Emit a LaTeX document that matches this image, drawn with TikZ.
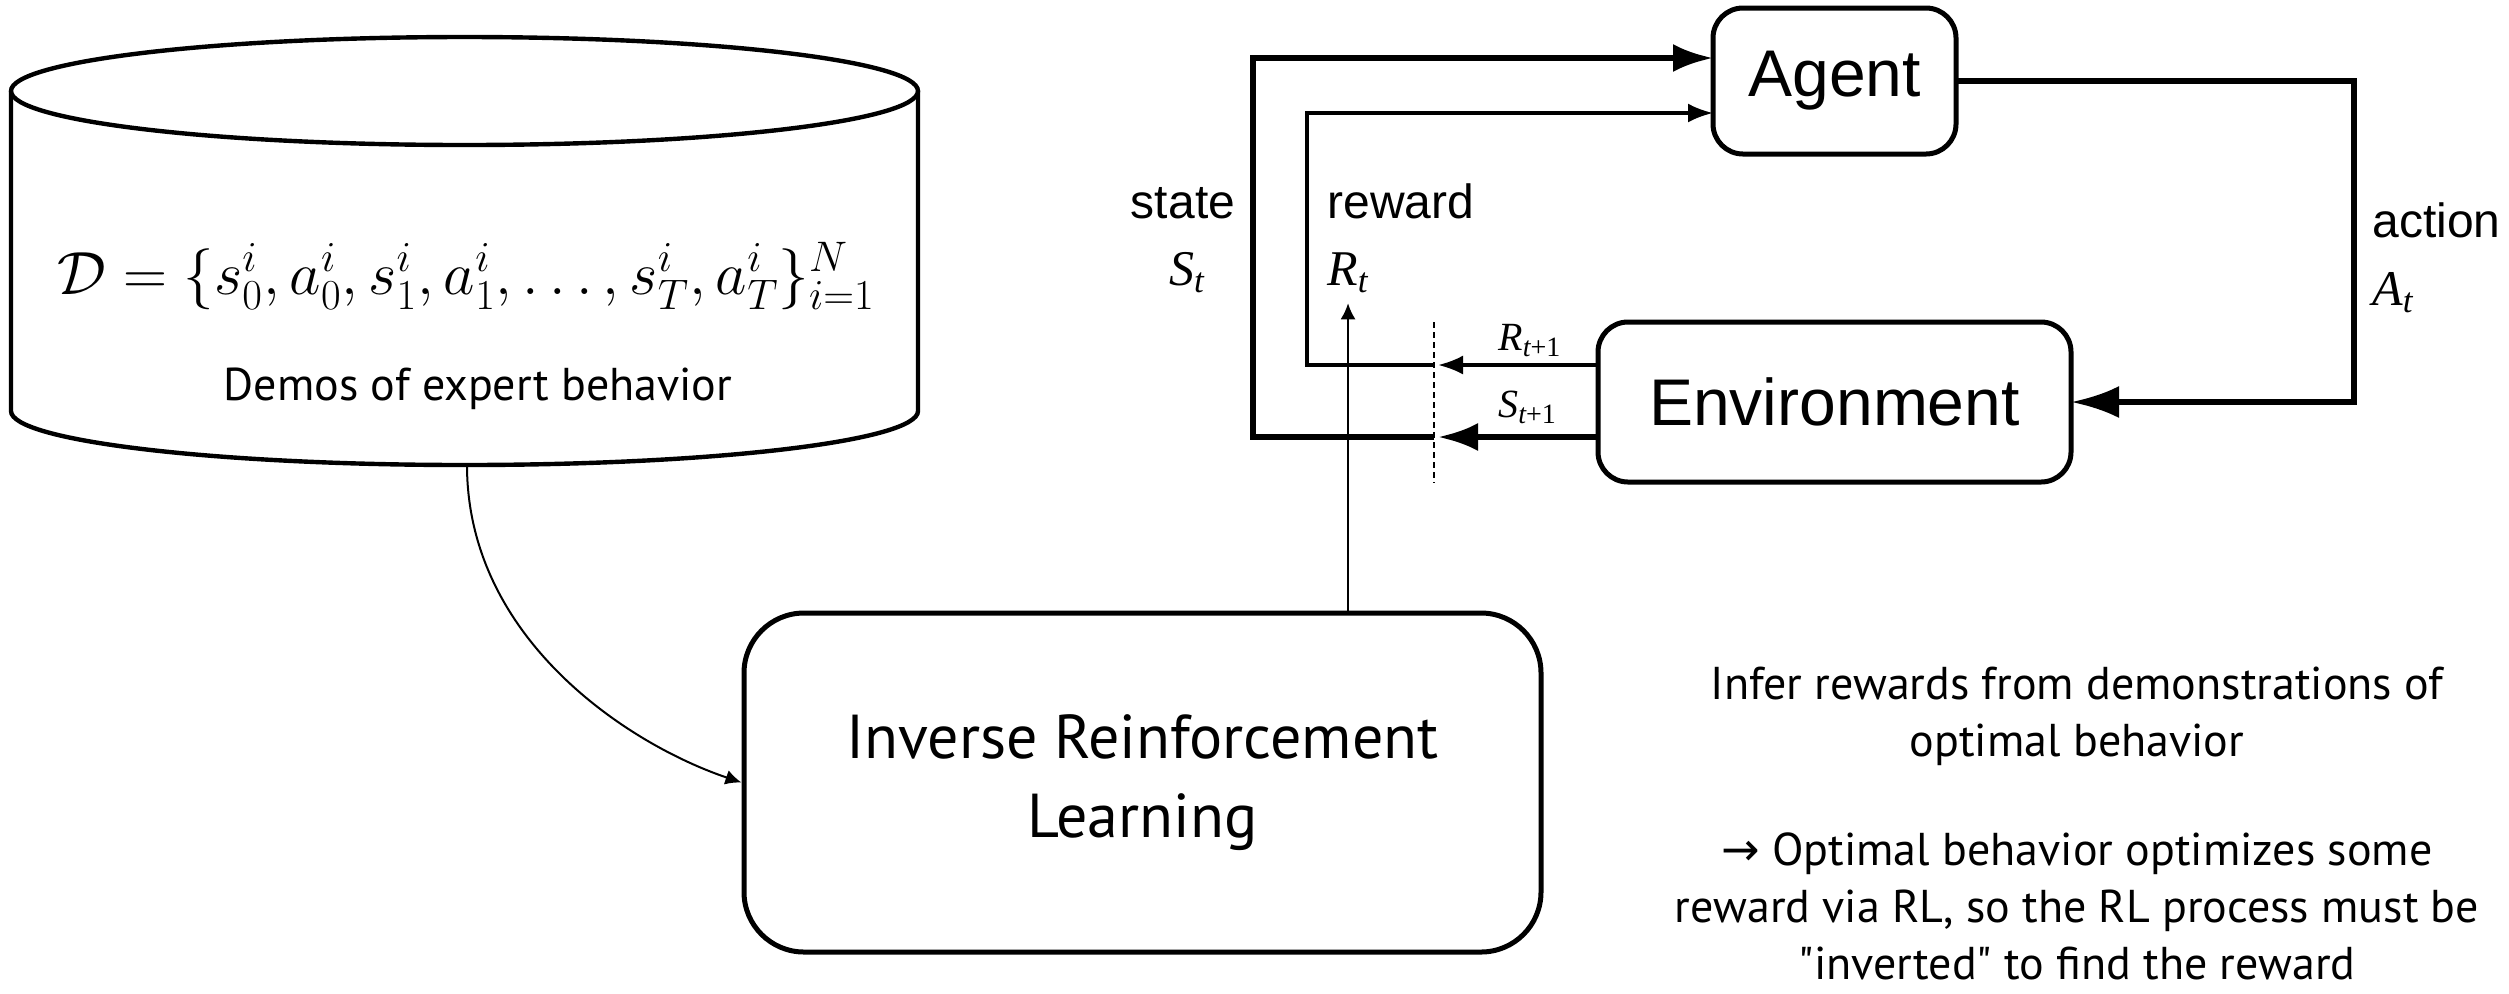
\RequirePackage{fix-cm}
\documentclass[tikz,border=0pt]{standalone}
\usepackage{fontspec}
\setmainfont{PT Sans}
\newfontfamily\helv{Liberation Sans}
\newfontfamily\timesit{Liberation Serif}
\newfontfamily\arrowfont{DejaVu Sans}
\usetikzlibrary{positioning,arrows.meta}

\newcommand{\rlvar}[2]{{\timesit\itshape #1}\textsubscript{\timesit\itshape #2}}

\begin{document}
\begin{tikzpicture}[x=0.5pt,y=-0.5pt,
		rlbox/.style={draw,line width=2.5pt,rounded corners=15pt,outer sep=0pt,font=\helv\fontsize{33}{40}\selectfont},
		rllabel/.style={inner sep=0pt,font=\helv\fontsize{24}{28}\selectfont},
		rlsym/.style={inner sep=0pt,font=\fontsize{25}{30}\selectfont},
		rlsmall/.style={inner sep=0pt,font=\fontsize{20}{24}\selectfont},
		bigarrow/.style={line width=3pt,-{Latex[length=20pt,width=14pt]}},
		thinarrow/.style={line width=1.6pt,-{Latex[length=12.5pt,width=9.5pt]}},
		cutline/.style={line width=0.9pt,dash pattern=on 3pt off 2pt},
		irlarrow/.style={line width=1pt,-{Latex[length=8pt,width=7.5pt]}}]
		\useasboundingbox (0,0) rectangle (2509,993);

		% demonstrations database
		\draw[line width=2.2pt] (464.5,91) ellipse [x radius=226.75pt, y radius=27pt];
		\draw[line width=2.2pt] (11,91) -- (11,411) arc [start angle=180, end angle=360, x radius=226.75pt, y radius=27pt] -- (918,91);
		\coordinate (dbBottom) at (467,465);
		\node[font=\fontsize{30.5}{36}\selectfont,anchor=base]		(dataset)	at (466,294)	{$\mathcal{D}=\{s_0^i,a_0^i,s_1^i,a_1^i,\ldots,s_T^i,a_T^i\}_{i=1}^N$};
		\node[font=\fontsize{23}{28}\selectfont,anchor=base]		(demos)		at (478,400)	{Demos of expert behavior};

		% IRL block
		\node[draw,line width=2.5pt,rounded corners=30pt,minimum width=398.5pt,minimum height=169.5pt,align=center,font=\fontsize{31}{39.5}\selectfont]	(irl)	at (1142.5,782.5)	{Inverse Reinforcement\\Learning};

		% agent / environment loop
		\node[rlbox,minimum width=121.5pt,minimum height=73pt]			(agent)		at (1834.5,81)	{Agent};
		\node[rlbox,minimum width=236.5pt,minimum height=80pt,below=84pt of agent]	(env)	{Environment};

		\node[rllabel,anchor=base]		(stateLbl)	at (1183,218)	{state};
		\node[rlsym,anchor=base]		(St)		at (1187,285)	{\rlvar{S}{t}};
		\node[rllabel,anchor=base west]	(rewardLbl)	at (1327,218)	{reward};
		\node[rlsym,anchor=base west]	(Rt)		at (1327,285)	{\rlvar{R}{t}};
		\node[rllabel,anchor=base west]	(actionLbl)	at (2372,237)	{action};
		\node[rlsym,anchor=base west]	(At)		at (2372,305)	{\rlvar{A}{t}};
		\node[rlsmall,anchor=base west]	(Rt1)		at (1498,350)	{\rlvar{R}{t\upshape+1}};
		\node[rlsmall,anchor=base west]	(St1)		at (1498,417)	{\rlvar{S}{t\upshape+1}};

		\coordinate (cutTop)	at (1434,322);
		\coordinate (cutBot)	at (1434,483);
		\coordinate (sCut)		at (1438,437);
		\coordinate (rCut)		at (1438,365);
		\coordinate (sLeft)		at (1253,437);
		\coordinate (rLeft)		at (1307,365);
		\coordinate (aRight)	at (2354,240);

		\draw[bigarrow] ([yshift=-17.5pt]env.west) -- (sCut);
		\draw[bigarrow] (cutTop |- sCut) -- (sLeft) |- ([yshift=11.5pt]agent.west);
		\draw[thinarrow] ([yshift=18.5pt]env.west) -- (rCut);
		\draw[thinarrow] (cutTop |- rCut) -- (rLeft) |- ([yshift=-16pt]agent.west);
		\draw[bigarrow,-{Latex[length=24pt,width=16pt]}] (agent.east) -| (aRight) |- (env.east);
		\draw[cutline] (cutTop) -- (cutBot);

		% IRL connections
		\draw[irlarrow] (dbBottom) .. controls (467,640) and (630,745) .. (irl.west);
		\draw[irlarrow] (irl.north -| Rt) -- ([yshift=-5pt]Rt.south);

		\node[font=\fontsize{23}{28.5}\selectfont,align=center,anchor=north,inner sep=0pt]	(note)	at (2077,667)
			{Infer rewards from demonstrations of\\optimal behavior\\[26pt]{\arrowfont →} Optimal behavior optimizes some\\reward via RL, so the RL process must be\\\textquotedbl inverted\textquotedbl{} to find the reward};
	\end{tikzpicture}
\end{document}
